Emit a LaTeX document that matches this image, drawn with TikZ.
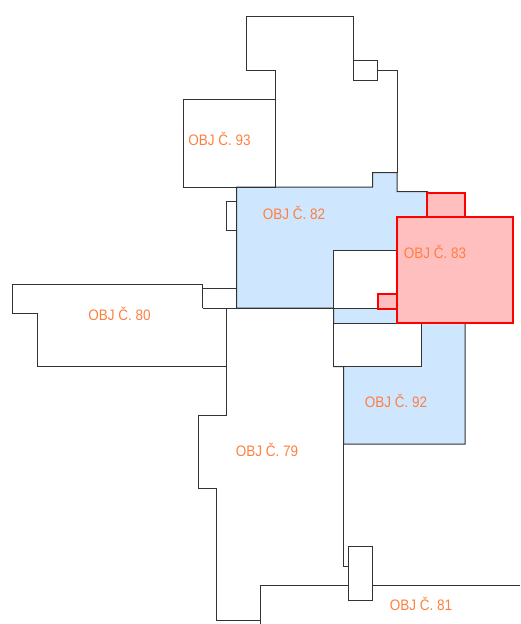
\documentclass[tikz,border=0pt]{standalone}
\usepackage{fontspec}
\setmainfont{Liberation Sans}
\newfontfamily\objfont[FakeStretch=0.89]{Liberation Sans}
\definecolor{wall}{gray}{0.2}
\definecolor{bluefill}{HTML}{CFE6FF}
\definecolor{redfill}{HTML}{FFBFBF}
\definecolor{labelc}{HTML}{FF7F40}
\tikzset{
  wallline/.style={draw=wall,line width=1pt,line join=miter},
  bluearea/.style={wallline,fill=bluefill},
  redarea/.style={draw=red,line width=2pt,fill=redfill,line join=miter},
  objlabel/.style={text=labelc,font=\objfont\fontsize{15.2}{17}\selectfont,inner sep=0pt,anchor=center}
}
\begin{document}
\begin{tikzpicture}[x=1pt,y=-1pt]
\useasboundingbox (0,0) rectangle (520,624);
% blue area 82 + 92
\path[bluearea] (236.5,187) -- (372.5,187) -- (372.5,172.5) -- (397,172.5) -- (397,191.5) -- (427,191.5) -- (465,216) -- (465,444) -- (343.5,444) -- (343.5,366.5) -- (333.5,366.5) -- (333.5,308) -- (236.5,308) -- cycle;
% building top
\path[wallline] (275,99) -- (275,70) -- (246.5,70) -- (246.5,16.5) -- (353,16.5) -- (353,60.5);
\path[wallline] (377.5,70.5) -- (397,70.5) -- (397,172.5);
\path[wallline,fill=white] (353,60.5) rectangle (377.5,80);
\path[wallline] (275,99) -- (275,187);
% 93
\path[wallline] (183.5,99) rectangle (275,187);
% small left annex
\path[wallline] (236.5,201.5) -- (226.5,201.5) -- (226.5,230) -- (236.5,230);
% 80
\path[wallline] (226.5,366.5) -- (37,366.5) -- (37,313.5) -- (12.5,313.5) -- (12.5,284) -- (202.5,284) -- (202.5,308);
\path[wallline] (202.5,288.5) -- (236.5,288.5);
% 79
\path[wallline] (202.5,308) -- (333.5,308);
\path[wallline] (226.5,308) -- (226.5,415) -- (198,415) -- (198,488) -- (216.5,488) -- (216.5,620) -- (260.5,620);
\path[wallline] (343.5,444) -- (343.5,566) -- (348.5,566);
% 81
\path[wallline] (260.5,624) -- (260.5,585.5) -- (520,585.5);
\path[wallline,fill=white] (348.5,546.5) rectangle (372.5,600);
% white holes
\path[wallline,fill=white] (333.5,308) -- (333.5,250) -- (396.5,250) -- (396.5,308) -- cycle;
\path[wallline,fill=white] (333.5,323) rectangle (421.5,366.5);
\path[wallline] (333.5,308) -- (333.5,323);
% red
\path[redarea] (427,216.5) -- (427,192.5) -- (464.5,192.5) -- (464.5,216.5) -- cycle;
\path[redarea] (396.5,308.5) -- (378,308.5) -- (378,293.5) -- (396.5,293.5) -- cycle;
\path[redarea] (396.5,216.5) rectangle (513,323);
% labels
\node[objlabel] (o93) at (219.5,138.5) {OBJ Č. 93};
\node[objlabel] (o82) at (294,212.5) {OBJ Č. 82};
\node[objlabel] (o83) at (435,251.5) {OBJ Č. 83};
\node[objlabel] (o80) at (119.5,313.5) {OBJ Č. 80};
\node[objlabel] (o92) at (396,400.5) {OBJ Č. 92};
\node[objlabel] (o79) at (267,449.5) {OBJ Č. 79};
\node[objlabel] (o81) at (421,603.5) {OBJ Č. 81};
\end{tikzpicture}
\end{document}
